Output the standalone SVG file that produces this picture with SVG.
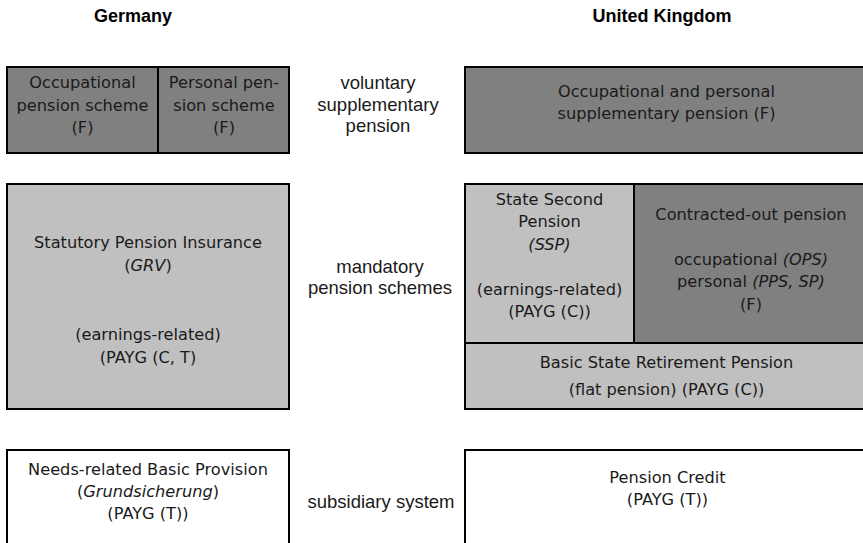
<svg xmlns="http://www.w3.org/2000/svg" width="863" height="543" viewBox="0 0 863 543">
<style>
.box{stroke:#000;stroke-width:2}
.dark{fill:#808080}
.light{fill:#c0c0c0}
.white{fill:#fff}
.bt{font-family:"DejaVu Sans",Verdana,sans-serif;font-size:16.2px;fill:#1a1a1a;text-anchor:middle}
.lab{font-family:"Liberation Sans",Arial,sans-serif;font-size:18.5px;fill:#1a1a1a;text-anchor:middle}
.hd{font-family:"Liberation Sans",Arial,sans-serif;font-size:18px;font-weight:bold;fill:#000;text-anchor:middle}
.it{font-style:italic}
</style>
<rect width="863" height="543" fill="#fff"/>
<g id="headers">
<text class="hd" x="133" y="22">Germany</text>
<text class="hd" x="662" y="22">United Kingdom</text>
</g>
<g id="labels">
<text class="lab" x="378" y="89">voluntary</text>
<text class="lab" x="378" y="110.5">supplementary</text>
<text class="lab" x="378" y="132">pension</text>
<text class="lab" x="380" y="273">mandatory</text>
<text class="lab" x="380" y="294">pension schemes</text>
<text class="lab" x="381" y="508">subsidiary system</text>
</g>
<g id="de-occupational">
<rect class="box dark" x="7" y="67" width="151" height="86"/>
<text class="bt" x="82.5" y="88">Occupational</text>
<text class="bt" x="82.5" y="110.5">pension scheme</text>
<text class="bt" x="82.5" y="133">(F)</text>
</g>
<g id="de-personal">
<rect class="box dark" x="158" y="67" width="131" height="86"/>
<text class="bt" x="224" y="88">Personal pen-</text>
<text class="bt" x="224" y="110.5">sion scheme</text>
<text class="bt" x="224" y="133">(F)</text>
</g>
<g id="uk-voluntary">
<rect class="box dark" x="465" y="67" width="403" height="86"/>
<text class="bt" x="666.5" y="97">Occupational and personal</text>
<text class="bt" x="666.5" y="119">supplementary pension (F)</text>
</g>
<g id="de-statutory">
<rect class="box light" x="7" y="184" width="282" height="225"/>
<text class="bt" x="148" y="248">Statutory Pension Insurance</text>
<text class="bt" x="148" y="271">(<tspan class="it">GRV</tspan>)</text>
<text class="bt" x="148" y="340">(earnings-related)</text>
<text class="bt" x="148" y="363">(PAYG (C, T)</text>
</g>
<g id="uk-ssp">
<rect class="box light" x="465" y="184" width="169" height="159"/>
<text class="bt" x="549.5" y="204.5">State Second</text>
<text class="bt" x="549.5" y="227">Pension</text>
<text class="bt it" x="549.5" y="249.5">(SSP)</text>
<text class="bt" x="549.5" y="294.5">(earnings-related)</text>
<text class="bt" x="549.5" y="317">(PAYG (C))</text>
</g>
<g id="uk-contracted-out">
<rect class="box dark" x="634" y="184" width="234" height="159"/>
<text class="bt" x="751" y="219.5">Contracted-out pension</text>
<text class="bt" x="751" y="264.5">occupational <tspan class="it">(OPS)</tspan></text>
<text class="bt" x="751" y="287">personal <tspan class="it">(PPS, SP)</tspan></text>
<text class="bt" x="751" y="309.5">(F)</text>
</g>
<g id="uk-basic">
<rect class="box light" x="465" y="343" width="403" height="66"/>
<text class="bt" x="666.5" y="368">Basic State Retirement Pension</text>
<text class="bt" x="666.5" y="395">(flat pension) (PAYG (C))</text>
</g>
<g id="de-needs">
<rect class="box white" x="7" y="450" width="282" height="100"/>
<text class="bt" x="148" y="475">Needs-related Basic Provision</text>
<text class="bt" x="148" y="497">(<tspan class="it">Grundsicherung</tspan>)</text>
<text class="bt" x="148" y="519">(PAYG (T))</text>
</g>
<g id="uk-credit">
<rect class="box white" x="465" y="450" width="403" height="100"/>
<text class="bt" x="667.5" y="483">Pension Credit</text>
<text class="bt" x="667.5" y="505">(PAYG (T))</text>
</g>
<g id="connectors"/>
</svg>
